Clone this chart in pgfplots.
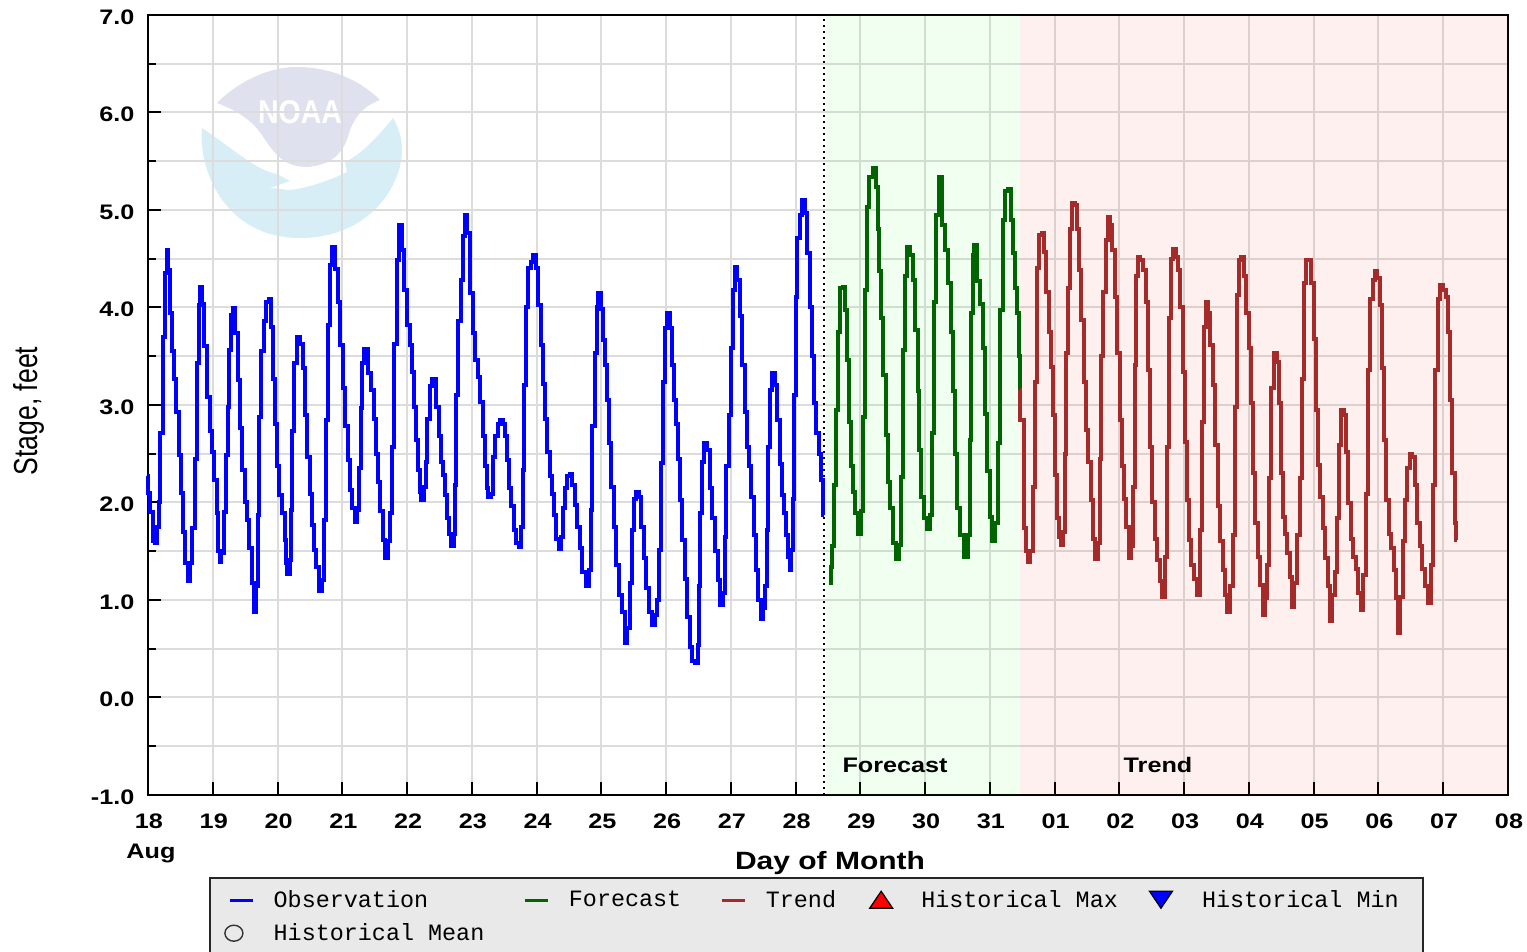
\documentclass[border=0pt]{standalone}
\usepackage{fontspec}
\usepackage{pgfplots}
\pgfplotsset{compat=1.18}
\setmainfont{Liberation Sans}[FakeStretch=1.2]
\newfontfamily\plainsans{Liberation Sans}
\newfontfamily\legfont{Liberation Mono}
\definecolor{gridc}{HTML}{DCDCDC}
\definecolor{obsc}{HTML}{0000FF}
\definecolor{fcstc}{HTML}{006400}
\definecolor{trendc}{HTML}{A52A2A}
\definecolor{legbg}{HTML}{E9E9E9}
\definecolor{logoblue}{HTML}{D8EEF6}
\definecolor{logodome}{HTML}{DFE1EE}
\begin{document}
\begin{tikzpicture}
\useasboundingbox (0pt,0pt) rectangle (763.5pt,-476pt);
\clip (0pt,0pt) rectangle (763.5pt,-476pt);
% logo is laid out in reference pixels, 1px = 0.5pt, y downwards
\begin{scope}[x=0.5pt,y=-0.5pt]
% NOAA logo, under the grid
\fill[logoblue] (202,128) .. controls (198,170) and (225,238) .. (300,238)
  .. controls (370,238) and (402,185) .. (402,150)
  .. controls (402,135) and (397,125) .. (393,118)
  .. controls (375,140) and (360,155) .. (345,162) -- (347,172)
  .. controls (335,178) and (310,188) .. (290,190) -- (270,188) -- (290,181) -- (277,174)
  .. controls (255,170) and (235,150) .. (202,128) -- cycle;
\fill[logodome] (217,103) .. controls (240,80) and (270,67) .. (297,67)
  .. controls (330,67) and (360,80) .. (380,100)
  .. controls (365,106) and (357,113) .. (350,130)
  .. controls (345,150) and (335,165) .. (307,167)
  .. controls (285,167) and (275,155) .. (262,135)
  .. controls (250,118) and (235,110) .. (217,103) -- cycle;
\node[white,font=\plainsans\fontsize{15}{15}\bfseries\selectfont,inner sep=0pt] at (300,112) {\scalebox{.95}[1.1]{NOAA}};
\end{scope}
\begin{axis}[
  at={(74pt,-7.5pt)}, anchor=north west,
  width=680pt, height=390pt, scale only axis,
  xmin=0, xmax=21, ymin=-1, ymax=7,
  clip=false,
  axis line style={black,line width=1pt},
  tick pos=lower,
  tick align=inside,
  tick style={black,line width=1pt},
  major tick length=6.5pt,
  minor tick length=4pt,
  xtick={0,...,21},
  xticklabels={18,19,20,21,22,23,24,25,26,27,28,29,30,31,01,02,03,04,05,06,07,08},
  ytick={-1,...,7},
  yticklabels={-1.0,0.0,1.0,2.0,3.0,4.0,5.0,6.0,7.0},
  minor ytick={-0.5,0.5,1.5,2.5,3.5,4.5,5.5,6.5},
  grid=both,
  grid style={gridc,line width=1pt},
  minor grid style={gridc,line width=1pt},
  tick label style={font=\fontsize{10.5}{12}\bfseries\selectfont},
  xticklabel style={yshift=-5.7pt,xshift=0.5pt},
  yticklabel style={xshift=-3.3pt,yshift=-1pt},
  xlabel={Day of Month},
  xlabel style={at={(axis description cs:0.5015,-0.0878)},anchor=center,font=\fontsize{12.5}{15}\bfseries\selectfont},
  ylabel={\scalebox{1}[1.25]{\plainsans Stage, feet}},
  ylabel style={at={(axis description cs:-0.0874,0.4923)},anchor=center,font=\fontsize{13.3}{15}\selectfont},
  legend columns=5,
  legend cell align=left,
  legend style={
    at={(0.045,-0.1055)}, anchor=north west,
    draw=black!85, line width=1pt, fill=legbg,
    font=\legfont\fontsize{11.7}{14}\selectfont,
    inner xsep=7pt, inner ysep=4pt,
    /tikz/row sep=2.5pt,
    /tikz/column 1/.style={column sep=7.5pt},
    /tikz/column 3/.style={column sep=8pt},
    /tikz/column 5/.style={column sep=8pt},
    /tikz/column 7/.style={column sep=12pt},
    /tikz/column 9/.style={column sep=12.5pt},
    /tikz/column 2/.style={column sep=17.5pt},
    /tikz/column 4/.style={column sep=17.5pt},
    /tikz/column 6/.style={column sep=14.5pt},
    /tikz/column 8/.style={column sep=13.5pt},
  },
]
% forecast and trend bands, thin enough to let the grid show through
\addplot[draw=none,fill=green,fill opacity=0.06,forget plot] coordinates {(10.47,-1)(13.47,-1)(13.47,7)(10.47,7)} -- cycle;
\addplot[draw=none,fill=red,fill opacity=0.06,forget plot] coordinates {(13.47,-1)(21,-1)(21,7)(13.47,7)} -- cycle;
\addplot[black,line width=1pt,dotted,forget plot] coordinates {(10.44,-1)(10.44,7)};

% observation
\addplot[obsc,line width=2pt,const plot mark mid,legend image code/.code={\draw[obsc,line width=1.3pt] (3pt,0pt) -- (14.5pt,0pt);}] coordinates {
(0,2.27)(.010,2.10)(.051,1.90)(.093,1.60)(.124,1.58)(.160,1.75)(.175,2.00)(.211,2.71)(.247,3.70)(.278,4.35)
(.300,4.59)(.330,4.38)(.350,3.94)(.381,3.55)(.417,3.27)(.458,2.93)(.494,2.49)(.530,2.10)(.561,1.70)(.597,1.38)
(.633,1.19)(.674,1.38)(.700,1.74)(.741,2.45)(.767,3.43)(.793,4.03)(.823,4.21)(.854,4.04)(.890,3.60)(.932,3.08)
(.968,2.73)(1.004,2.52)(1.040,2.23)(1.076,1.89)(1.101,1.50)(1.112,1.39)(1.153,1.48)(1.189,1.90)(1.225,2.49)(1.240,2.98)
(1.266,3.56)(1.292,3.92)(1.328,3.99)(1.369,3.74)(1.405,3.26)(1.441,2.76)(1.477,2.33)(1.513,2.01)(1.549,1.82)(1.585,1.53)
(1.616,1.17)(1.652,.88)(1.693,1.14)(1.709,1.87)(1.729,2.88)(1.771,3.55)(1.807,3.86)(1.848,4.06)(1.884,4.09)(1.910,3.80)
(1.946,3.27)(1.976,2.81)(2.012,2.37)(2.049,2.08)(2.090,1.89)(2.126,1.62)(2.141,1.38)(2.167,1.27)(2.203,1.41)(2.218,1.92)
(2.234,2.73)(2.280,3.43)(2.311,3.70)(2.373,3.63)(2.409,3.38)(2.440,2.90)(2.476,2.47)(2.512,2.09)(2.543,1.77)(2.579,1.51)
(2.615,1.34)(2.666,1.09)(2.707,1.21)(2.723,1.82)(2.759,2.85)(2.795,3.82)(2.821,4.44)(2.851,4.62)(2.923,4.39)(2.954,4.06)
(2.990,3.62)(3.026,3.17)(3.068,2.78)(3.104,2.44)(3.135,2.13)(3.171,1.94)(3.212,1.80)(3.248,1.92)(3.274,2.35)(3.299,2.97)
(3.325,3.43)(3.361,3.57)(3.428,3.33)(3.464,3.15)(3.505,2.86)(3.541,2.50)(3.572,2.21)(3.608,1.91)(3.649,1.62)(3.685,1.43)
(3.726,1.60)(3.752,1.89)(3.788,2.57)(3.824,3.63)(3.855,4.49)(3.891,4.85)(3.943,4.59)(3.978,4.18)(4.020,3.82)(4.056,3.62)
(4.087,3.34)(4.123,2.98)(4.149,2.64)(4.179,2.33)(4.210,2.11)(4.236,2.03)(4.277,2.16)(4.293,2.42)(4.329,2.86)(4.365,3.19)
(4.406,3.27)(4.473,2.98)(4.509,2.68)(4.545,2.42)(4.571,2.28)(4.602,2.08)(4.638,1.84)(4.664,1.68)(4.700,1.55)(4.740,1.68)
(4.756,2.18)(4.767,3.10)(4.808,3.86)(4.844,4.28)(4.880,4.73)(4.911,4.95)(4.947,4.76)(4.998,4.15)(5.034,3.74)(5.075,3.46)
(5.111,3.29)(5.152,3.03)(5.193,2.68)(5.214,2.37)(5.240,2.15)(5.271,2.06)(5.323,2.09)(5.343,2.47)(5.384,2.68)(5.410,2.81)
(5.462,2.85)(5.498,2.81)(5.528,2.68)(5.564,2.44)(5.590,2.15)(5.626,1.96)(5.667,1.72)(5.703,1.58)(5.745,1.54)(5.781,1.75)
(5.786,2.33)(5.812,3.21)(5.848,4.01)(5.889,4.40)(5.925,4.47)(5.966,4.54)(6.012,4.40)(6.043,4.03)(6.079,3.62)(6.105,3.22)
(6.141,2.86)(6.182,2.52)(6.218,2.27)(6.249,2.09)(6.285,1.87)(6.321,1.63)(6.362,1.52)(6.398,1.65)(6.424,1.94)(6.455,2.15)
(6.491,2.27)(6.527,2.29)(6.568,2.18)(6.609,1.97)(6.645,1.75)(6.687,1.53)(6.723,1.29)(6.789,1.14)(6.836,1.31)(6.841,1.92)
(6.877,2.78)(6.913,3.53)(6.939,4.01)(6.970,4.15)(7.006,3.98)(7.042,3.67)(7.073,3.41)(7.109,3.05)(7.134,2.61)(7.170,2.16)
(7.211,1.75)(7.248,1.36)(7.289,1.05)(7.340,.88)(7.376,.56)(7.417,.71)(7.453,1.17)(7.484,1.72)(7.520,2.04)(7.556,2.11)
(7.598,2.06)(7.639,1.75)(7.675,1.43)(7.711,1.12)(7.752,.88)(7.804,.74)(7.845,.85)(7.881,1.00)(7.896,1.51)(7.932,2.40)
(7.958,3.24)(7.994,3.79)(8.035,3.94)(8.071,3.79)(8.102,3.41)(8.138,3.05)(8.164,2.80)(8.200,2.45)(8.231,2.03)(8.267,1.62)
(8.303,1.22)(8.344,.83)(8.380,.52)(8.421,.37)(8.473,.35)(8.498,.54)(8.509,1.14)(8.534,1.89)(8.565,2.42)(8.611,2.61)
(8.653,2.54)(8.689,2.15)(8.730,1.84)(8.771,1.50)(8.817,1.21)(8.859,.95)(8.895,1.07)(8.910,1.65)(8.946,2.37)(8.987,2.90)
(9.013,3.58)(9.039,4.18)(9.075,4.42)(9.121,4.28)(9.152,3.91)(9.193,3.41)(9.229,2.93)(9.260,2.57)(9.296,2.37)(9.332,2.06)
(9.373,1.67)(9.409,1.31)(9.440,1.00)(9.476,.81)(9.512,.92)(9.543,1.14)(9.564,1.72)(9.595,2.57)(9.615,3.15)(9.656,3.33)
(9.697,3.21)(9.734,2.85)(9.775,2.39)(9.811,2.08)(9.836,1.89)(9.862,1.67)(9.898,1.44)(9.914,1.31)(9.950,1.51)(9.965,2.04)
(9.991,3.10)(10.006,4.11)(10.042,4.71)(10.078,4.95)(10.119,5.10)(10.160,4.97)(10.196,4.56)(10.233,4.01)(10.263,3.50)(10.300,3.02)
(10.335,2.71)(10.377,2.50)(10.413,2.23)(10.428,1.87)
};
\addlegendentry{Observation}

% forecast
\addplot[fcstc,line width=2pt,const plot mark mid,legend image code/.code={\draw[fcstc,line width=1.3pt] (0pt,0pt) -- (11.5pt,0pt);}] coordinates {
(10.521,1.17)(10.557,1.34)(10.572,1.55)(10.598,2.18)(10.634,2.95)(10.670,3.75)(10.701,4.20)(10.747,4.21)(10.773,3.97)(10.814,3.46)
(10.840,2.83)(10.876,2.37)(10.902,2.11)(10.943,1.89)(10.994,1.68)(11.035,1.91)(11.046,2.88)(11.082,4.18)(11.108,5.03)(11.149,5.34)
(11.226,5.43)(11.252,5.24)(11.277,4.81)(11.303,4.37)(11.329,3.89)(11.380,3.31)(11.406,2.69)(11.432,2.21)(11.473,1.94)(11.535,1.58)
(11.571,1.42)(11.612,1.56)(11.638,2.26)(11.674,3.56)(11.705,4.32)(11.741,4.62)(11.802,4.54)(11.828,4.28)(11.869,3.77)(11.895,3.14)
(11.921,2.54)(11.962,2.06)(11.998,1.84)(12.050,1.73)(12.085,1.87)(12.116,2.71)(12.152,4.06)(12.188,4.95)(12.230,5.34)(12.281,4.85)
(12.317,4.59)(12.384,4.25)(12.420,3.75)(12.446,3.14)(12.471,2.50)(12.513,1.94)(12.564,1.67)(12.631,1.44)(12.677,1.67)(12.703,2.64)
(12.719,3.94)(12.744,4.54)(12.780,4.64)(12.821,4.27)(12.873,4.04)(12.909,3.58)(12.935,2.91)(12.976,2.32)(13.012,1.85)(13.053,1.60)
(13.105,1.79)(13.141,2.61)(13.182,3.97)(13.218,4.90)(13.259,5.19)(13.300,5.22)(13.336,4.90)(13.372,4.56)(13.403,4.20)(13.439,3.94)
(13.455,3.50)(13.460,3.15)
};
\addlegendentry{Forecast}

% trend
\addplot[trendc,line width=2pt,const plot mark mid,legend image code/.code={\draw[trendc,line width=1.3pt] (0pt,0pt) -- (11.5pt,0pt);}] coordinates {
(13.460,3.15)(13.470,2.85)(13.517,2.85)(13.527,2.20)(13.537,1.74)(13.568,1.50)(13.594,1.39)(13.646,1.50)(13.671,2.16)(13.712,3.24)
(13.743,4.40)(13.785,4.74)(13.826,4.76)(13.857,4.57)(13.887,4.16)(13.929,3.75)(13.954,3.39)(13.980,2.90)(14.016,2.28)(14.042,1.84)
(14.083,1.65)(14.114,1.56)(14.150,1.70)(14.160,2.50)(14.186,3.53)(14.227,4.20)(14.253,4.80)(14.289,5.07)(14.330,5.05)(14.366,4.81)
(14.392,4.38)(14.428,3.87)(14.464,3.24)(14.505,2.74)(14.536,2.42)(14.572,2.03)(14.598,1.63)(14.649,1.42)(14.690,1.58)(14.701,2.45)
(14.726,3.50)(14.768,4.16)(14.804,4.69)(14.829,4.93)(14.871,4.85)(14.907,4.59)(14.948,4.11)(14.984,3.53)(15.020,2.85)(15.051,2.37)
(15.087,2.04)(15.123,1.75)(15.164,1.43)(15.205,1.55)(15.226,2.16)(15.241,3.41)(15.267,4.32)(15.303,4.52)(15.344,4.49)(15.385,4.38)
(15.421,4.06)(15.447,3.36)(15.483,2.57)(15.524,2.01)(15.560,1.63)(15.602,1.41)(15.637,1.19)(15.679,1.03)(15.715,1.44)(15.746,2.57)
(15.782,3.89)(15.818,4.50)(15.848,4.60)(15.885,4.52)(15.921,4.38)(15.962,4.01)(15.987,3.34)(16.029,2.62)(16.065,2.03)(16.090,1.62)
(16.132,1.36)(16.178,1.22)(16.219,1.05)(16.255,1.72)(16.286,2.83)(16.312,3.80)(16.348,4.06)(16.384,3.94)(16.425,3.62)(16.461,3.21)
(16.502,2.59)(16.538,1.96)(16.579,1.60)(16.605,1.31)(16.646,1.05)(16.682,.88)(16.734,1.14)(16.770,1.67)(16.801,2.98)(16.837,4.13)
(16.863,4.49)(16.899,4.52)(16.940,4.32)(16.976,3.94)(17.017,3.58)(17.043,3.02)(17.079,2.30)(17.120,1.79)(17.156,1.44)(17.197,1.15)
(17.225,.85)(17.259,1.02)(17.300,1.36)(17.326,2.25)(17.362,3.17)(17.403,3.53)(17.454,3.44)(17.480,3.02)(17.506,2.30)(17.532,1.85)
(17.568,1.68)(17.609,1.48)(17.645,1.24)(17.676,.93)(17.722,1.17)(17.763,1.67)(17.805,2.25)(17.841,3.27)(17.866,4.25)(17.902,4.49)
(17.943,4.49)(17.985,4.25)(18.010,3.68)(18.046,2.95)(18.082,2.38)(18.124,2.06)(18.160,1.74)(18.201,1.43)(18.237,1.14)(18.268,.78)
(18.304,1.05)(18.340,1.29)(18.381,1.84)(18.407,2.59)(18.443,2.95)(18.484,2.90)(18.520,2.52)(18.551,1.99)(18.587,1.63)(18.638,1.44)
(18.664,1.32)(18.705,1.07)(18.741,.90)(18.793,1.26)(18.819,2.09)(18.855,3.36)(18.896,4.09)(18.932,4.28)(18.963,4.37)(18.999,4.30)
(19.035,4.03)(19.076,3.38)(19.102,2.64)(19.138,2.03)(19.179,1.68)(19.220,1.53)(19.256,1.31)(19.282,1.02)(19.318,.66)(19.359,1.03)
(19.395,1.60)(19.421,2.03)(19.462,2.35)(19.498,2.50)(19.539,2.47)(19.580,2.18)(19.616,1.79)(19.652,1.55)(19.693,1.32)(19.729,1.14)
(19.796,.97)(19.832,1.36)(19.858,2.18)(19.899,3.36)(19.935,4.09)(19.977,4.23)(20.018,4.18)(20.054,4.11)(20.090,3.75)(20.121,3.05)
(20.157,2.30)(20.193,1.79)(20.200,1.62)
};
\addlegendentry{Trend}

\addlegendimage{legend image code/.code={\filldraw[fill=red,draw=black,line width=.6pt] (0pt,-4pt) -- (11.5pt,-4pt) -- (5.75pt,4.5pt) -- cycle;}}
\addlegendentry{Historical Max}
\addlegendimage{legend image code/.code={\filldraw[fill=blue,draw=black,line width=.6pt] (0pt,4.5pt) -- (11.5pt,4.5pt) -- (5.75pt,-4pt) -- cycle;}}
\addlegendentry{Historical Min\rule{3pt}{0pt}}
\addlegendimage{legend image code/.code={\draw[black!80,line width=.7pt] (4.75pt,0pt) ellipse [x radius=4.5pt,y radius=4pt];}}
\addlegendentry{Historical Mean}
% blank cells: the legend box runs off the bottom of the picture
\addlegendimage{empty legend}\addlegendentry{}
\addlegendimage{empty legend}\addlegendentry{}
\addlegendimage{empty legend}\addlegendentry{}
\addlegendimage{empty legend}\addlegendentry{}
\addlegendimage{empty legend}\addlegendentry{}

\node[font=\fontsize{10.5}{12}\bfseries\selectfont] at (axis cs:11.535,-0.692) {Forecast};
\node[font=\fontsize{10.5}{12}\bfseries\selectfont] at (axis cs:15.596,-0.692) {Trend};
\node[font=\fontsize{10.5}{12}\bfseries\selectfont] at (axis description cs:0.0022,-0.0745) {Aug};
\end{axis}
\end{tikzpicture}
\end{document}
